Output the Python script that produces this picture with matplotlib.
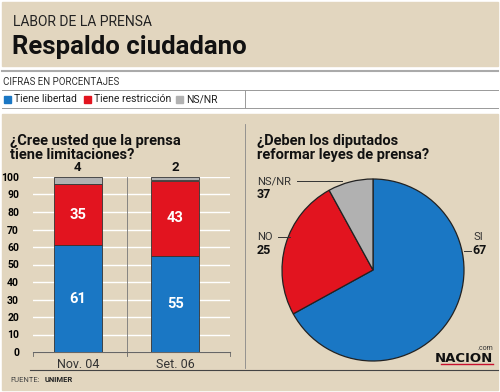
import matplotlib.pyplot as plt
import matplotlib.patches as mpatches
from matplotlib.lines import Line2D

plt.rcParams["font.family"] = ["Roboto", "DejaVu Sans"]

# data
periods = ["Nov. 04", "Set. 06"]
libertad = [61, 55]
restriccion = [35, 43]
nsnr = [4, 2]

pie_labels = ["SI", "NO", "NS/NR"]
pie_values = [67, 25, 8]
pie_texts = ["67", "25", "37"]

BLUE = "#1a77c4"
RED = "#e2141f"
GRAY = "#b1b1b1"
BEIGE = "#e2d6bf"

W, H = 500, 392
fig = plt.figure(figsize=(5, 3.92), dpi=100)
fig.patch.set_facecolor("white")


def fx(x):
    return x / W


def fy(y):
    return 1 - y / H


def rect(x0, y0, x1, y1, color):
    fig.patches.append(mpatches.Rectangle((fx(x0), fy(y1)), fx(x1 - x0), (y1 - y0) / H,
                                          transform=fig.transFigure, color=color, zorder=-5))


def hline(y, x0, x1, color="#888888", lw=0.8):
    fig.lines.append(Line2D([fx(x0), fx(x1)], [fy(y), fy(y)], transform=fig.transFigure,
                            color=color, lw=lw))


def vline(x, y0, y1, color="#888888", lw=0.8):
    fig.lines.append(Line2D([fx(x), fx(x)], [fy(y0), fy(y1)], transform=fig.transFigure,
                            color=color, lw=lw, zorder=-1))


# header
rect(2, 2, 498, 66, BEIGE)
fig.text(fx(13), fy(22), "LABOR DE LA PRENSA", fontsize=10, color="#222222", va="center")
fig.text(fx(12), fy(47), "Respaldo ciudadano", fontsize=18.5, fontweight="bold", color="#111111", va="center")

hline(71, 2, 498, color="#aaaaaa", lw=1.5)
fig.text(fx(3), fy(82), "CIFRAS EN PORCENTAJES", fontsize=7, color="#333333", va="center")
hline(90, 2, 498, color="#999999", lw=0.7)
hline(108, 2, 498, color="#999999", lw=0.7)
vline(245, 90, 108, color="#999999", lw=0.7)

# legend row
leg_items = [("Tiene libertad", BLUE, 4), ("Tiene restricción", RED, 84), ("NS/NR", GRAY, 176)]
for name, col, x in leg_items:
    rect(x, 96, x + 7, 103, col)
    fig.text(fx(x + 10), fy(99.5), name, fontsize=7.5, color="#222222", va="center")

# lower panel
rect(2, 114, 498, 390, BEIGE)
vline(245, 124, 368, color="#888888", lw=0.6)
hline(370, 30, 498, color="#444444", lw=0.8)
fig.text(fx(10), fy(380), "FUENTE:", fontsize=5.5, color="#444444", va="center")
fig.text(fx(45), fy(380), "UNIMER", fontsize=5.5, fontweight="bold", color="#222222", va="center")

# bar chart
fig.text(fx(10), fy(148), "¿Cree usted que la prensa\ntiene limitaciones?", fontsize=10.5,
         fontweight="bold", color="#111111", va="center", linespacing=1.0)

ax = fig.add_axes([fx(33), fy(352), fx(230 - 33), (352 - 177) / H])
ax.patch.set_alpha(0)
x = [0, 1]
ax.bar(x, libertad, width=0.49, color=BLUE, edgecolor="#333333", lw=0.6, zorder=3)
bottom2 = libertad
ax.bar(x, restriccion, width=0.49, bottom=bottom2, color=RED, edgecolor="#333333", lw=0.6, zorder=3)
bottom3 = [a + b for a, b in zip(libertad, restriccion)]
ax.bar(x, nsnr, width=0.49, bottom=bottom3, color=GRAY, edgecolor="#333333", lw=0.6, zorder=3)
for i in x:
    ax.text(i, libertad[i] / 2, str(libertad[i]), color="white", fontsize=10.5, fontweight="bold",
            ha="center", va="center", zorder=4)
    ax.text(i, libertad[i] + restriccion[i] / 2, str(restriccion[i]), color="white", fontsize=10.5,
            fontweight="bold", ha="center", va="center", zorder=4)
    ax.text(i, 101.5, str(nsnr[i]), color="#111111", fontsize=9.5, fontweight="bold",
            ha="center", va="bottom", zorder=4)
ax.set_xlim(-0.46, 1.56)
ax.set_ylim(0, 100)
ax.set_yticks(range(0, 101, 10))
ax.set_yticklabels([str(v) for v in range(0, 101, 10)], fontsize=7.5, fontweight="bold")
ax.yaxis.grid(True, color="white", lw=1, zorder=1)
ax.tick_params(axis="y", length=0, pad=10)
ax.set_xticks(x)
ax.set_xticklabels(periods, fontsize=9, color="#333333")
ax.tick_params(axis="x", length=0, pad=4)
for s in ["top", "right", "left"]:
    ax.spines[s].set_visible(False)
ax.spines["bottom"].set_color("#666666")
ax.spines["bottom"].set_linewidth(0.8)
for xt in [-0.46, 0.5, 1.56]:
    ax.plot([xt, xt], [0, -2], color="#666666", lw=0.6, clip_on=False)
ax.plot([0.5, 0.5], [0, 100], color="#777777", lw=0.6, zorder=2)

# pie chart
fig.text(fx(257), fy(148), "¿Deben los diputados\nreformar leyes de prensa?", fontsize=10.5,
         fontweight="bold", color="#111111", va="center", linespacing=1.0)

r = 91
pax = fig.add_axes([fx(373 - r), fy(270 + r), fx(2 * r), 2 * r / H])
pax.pie(pie_values, colors=[BLUE, RED, GRAY], startangle=90, counterclock=False,
        wedgeprops=dict(edgecolor="#222222", linewidth=0.9))
pax.set_aspect("equal")
pax.set_xlim(-1, 1)
pax.set_ylim(-1, 1)
pax.axis("off")

# pie labels
fig.text(fx(257), fy(181), pie_labels[2], fontsize=8, color="#333333", va="center")
fig.text(fx(257), fy(195), pie_texts[2], fontsize=9, fontweight="bold", color="#111111", va="center")
hline(181, 297, 342, color="#333333", lw=0.7)
fig.text(fx(257), fy(237), pie_labels[1], fontsize=8, color="#333333", va="center")
fig.text(fx(257), fy(251), pie_texts[1], fontsize=9, fontweight="bold", color="#111111", va="center")
hline(237, 278, 290, color="#333333", lw=0.7)
fig.text(fx(474), fy(237), pie_labels[0], fontsize=8, color="#333333", va="center")
fig.text(fx(472), fy(251), pie_texts[0], fontsize=9, fontweight="bold", color="#111111", va="center")
hline(251, 464, 471, color="#333333", lw=0.7)

# logo
fig.text(fx(493), fy(358), "NACION", fontsize=9.5, fontweight="bold", color="#111111",
         ha="right", va="center", family="Liberation Sans Narrow")
fig.text(fx(493), fy(349), ".com", fontsize=5, color="#333333", ha="right", va="center")
hline(364, 441, 493, color="#c8102e", lw=1.0)

fig.savefig("out.png", dpi=100)
